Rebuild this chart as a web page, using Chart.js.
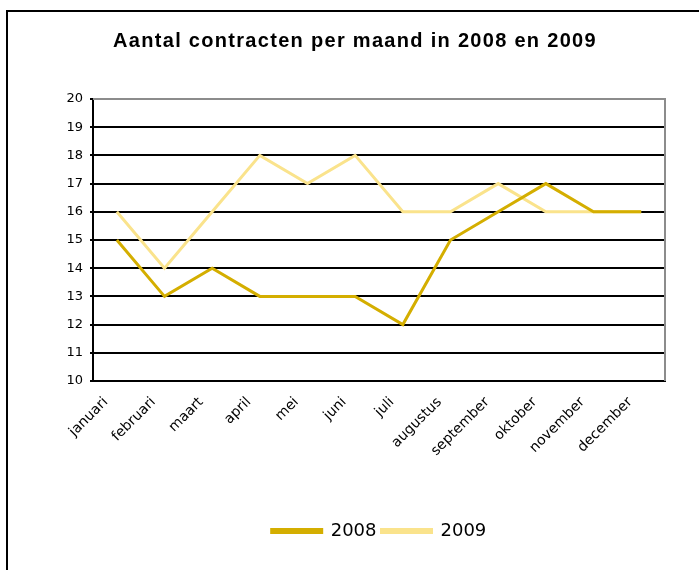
<!DOCTYPE html>
<html><head><meta charset="utf-8">
<script src="https://cdn.jsdelivr.net/npm/chart.js@4/dist/chart.umd.min.js"></script>
<style>
html,body{margin:0;padding:0;background:#fff;}
#wrap{position:absolute;left:0;top:0;width:699px;height:570px;}
#frame{position:absolute;left:6px;top:10px;width:700px;height:600px;border-left:2px solid #000;border-top:2px solid #000;pointer-events:none;}
</style></head>
<body>
<div id="wrap"><canvas id="c" width="699" height="570"></canvas></div>
<div id="frame"></div>
<script>
const months = ["januari","februari","maart","april","mei","juni","juli","augustus","september","oktober","november","december"];
const values2008 = [15,13,14,13,13,13,12,15,16,17,16,16];
const values2009 = [16,14,16,18,17,18,16,16,17,16,16,16];
const yMin = 10, yMax = 20;

const frameLines = {
  id:'frameLines',
  afterLayout(chart){
    if (chart.legend){ chart.legend.left += 24; chart.legend.right += 24; }
  },
  afterDraw(chart){
    const {ctx, chartArea:a} = chart;
    ctx.save();
    ctx.strokeStyle = '#8c8c8c';
    ctx.lineWidth = 2;
    ctx.beginPath();
    ctx.moveTo(a.left, a.top); ctx.lineTo(a.right, a.top); ctx.lineTo(a.right, a.bottom);
    ctx.stroke();
    ctx.restore();
  }
};

const chart = new Chart(document.getElementById('c'), {
  type:'line',
  data:{
    labels: months,
    datasets:[
      {label:'2008', data: values2008, borderColor:'#D4AE00', backgroundColor:'#D4AE00', borderWidth:3, pointRadius:0, tension:0},
      {label:'2009', data: values2009, borderColor:'#FAE38C', backgroundColor:'#FAE38C', borderWidth:3, pointRadius:0, tension:0}
    ]
  },
  options:{
    responsive:false,
    animation:false,
    layout:{padding:{left:11, right:0, top:0, bottom:20}},
    plugins:{
      title:{display:true, text:'Aantal contracten per maand in 2008 en 2009', color:'#000',
        font:{family:'"Liberation Sans", Arial, sans-serif', weight:'bold', size:20},
        padding:{top:29, bottom:46}},
      legend:{position:'bottom', labels:{color:'#000', boxWidth:50, boxHeight:3, padding:5,
        font:{family:'"DejaVu Sans", sans-serif', size:18}}},
      tooltip:{enabled:false}
    },
    scales:{
      x:{
        offset:true,
        grid:{display:false, drawTicks:false},
        border:{color:'#000', width:2},
        ticks:{color:'#000', maxRotation:45, minRotation:45, autoSkip:false, padding:13, labelOffset:-11,
          font:{family:'"DejaVu Sans", sans-serif', size:14}},
        afterFit(s){ s.height = 136; }
      },
      y:{
        min:yMin, max:yMax,
        grid:{color:'#000', lineWidth:2, drawTicks:true, tickLength:3},
        border:{color:'#000', width:2},
        ticks:{stepSize:1, color:'#000', padding:7, font:{family:'"DejaVu Sans", sans-serif', size:13}},
        afterFit(s){ s.width = 82; }
      },
      yR:{
        position:'right', display:true,
        grid:{display:false, drawTicks:false},
        border:{display:false},
        ticks:{display:false},
        afterFit(s){ s.width = 34; }
      }
    }
  },
  plugins:[frameLines]
});
const tb = chart.titleBlock;
const origDraw = tb.draw.bind(tb);
tb.draw = function(){
  const ctx = chart.ctx;
  ctx.save();
  ctx.letterSpacing = '1.3px';
  origDraw();
  ctx.restore();
};
chart.draw();
</script>
</body></html>
